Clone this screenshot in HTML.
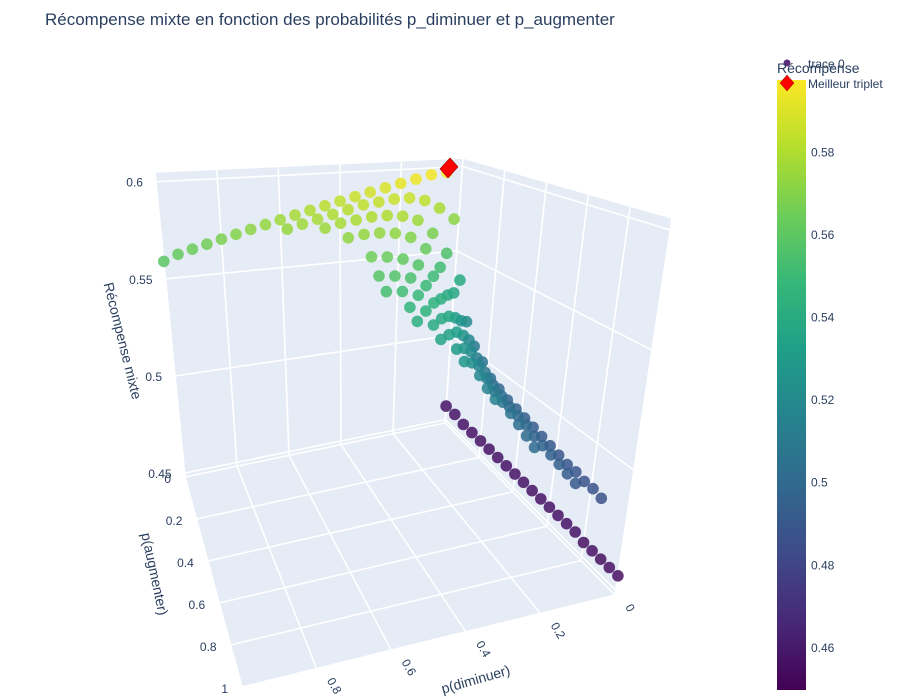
<!DOCTYPE html>
<html><head><meta charset="utf-8"><style>
body{margin:0;background:#fff;}
svg{display:block;font-family:"Liberation Sans",Arial,sans-serif;}
</style></head><body>
<svg id="chart" width="900" height="700" viewBox="0 0 900 700">
<text x="45" y="25" font-size="17" fill="#2a3f5f">Récompense mixte en fonction des probabilités p_diminuer et p_augmenter</text>
<g id="scene"></g>
<g id="cbar"></g>
<g>
<circle cx="787" cy="63" r="3.5" fill="#5c2d7c"/>
<text x="808" y="68" font-size="12" fill="#2a3f5f">trace 0</text>
<polygon points="787,75 794,83 787,91 780,83" fill="#ff0000" stroke="#8b0000" stroke-width="0.5"/>
<text x="808" y="88" font-size="12" fill="#2a3f5f">Meilleur triplet</text>
<text x="777" y="73" font-size="14" fill="#2a3f5f">Récompense</text>
</g>
</svg>
<script>
// ---- data ----
const uGrid = [0,0.05,0.1,0.15,0.2,0.25,0.3,0.35,0.4,0.45,0.5,0.55,0.6,0.65,0.7,0.75,0.8,0.85,0.9,0.95,1];
const vGrid = [0,0.05,0.1,0.15,0.2,0.25,0.3,0.35,0.4,0.45,0.5,0.55,0.6,0.65,0.7,0.75,0.8,0.85,0.9,0.95,1];
// reward for p_diminuer = 0, indexed by p_augmenter
const rewardU0 = [0.458,0.458,0.457,0.457,0.457,0.457,0.457,0.457,0.457,0.457,0.457,0.457,0.457,0.457,0.457,0.457,0.456,0.456,0.456,0.456,0.456];
// rows: p_augmenter = vGrid[j]; entries for p_diminuer = 0.05, 0.1, ...
const rewardRows = [
[0.597,0.596,0.594,0.592,0.590,0.588,0.586,0.584,0.582,0.580,0.578,0.576,0.574,0.572,0.570,0.568,0.566,0.564,0.562,0.559],
[0.572,0.579,0.584,0.586,0.586,0.585,0.584,0.582,0.580,0.578,0.576,0.574],
[0.540,0.556,0.568,0.576,0.579,0.580,0.580,0.579,0.578,0.576],
[0.520,0.537,0.552,0.563,0.570,0.573,0.574,0.574,0.573],
[0.510,0.525,0.540,0.551,0.558,0.562,0.564,0.565],
[0.505,0.518,0.531,0.542,0.550,0.555,0.557,0.558],
[0.500,0.512,0.525,0.536,0.544,0.549,0.552,0.553],
[0.498,0.508,0.520,0.531,0.539,0.544,0.547],
[0.496,0.505,0.516,0.526,0.534,0.540,0.543],
[0.495,0.503,0.513,0.522,0.530,0.536],
[0.494,0.501,0.510,0.519,0.527],
[0.493,0.500,0.508,0.516],
[0.492,0.499,0.506,0.514],
[0.491,0.497,0.504],
[0.490,0.496,0.502],
[0.489,0.495,0.500],
[0.489,0.494],
[0.488,0.493],
[0.488,0.492],
[0.487]
];
const bestDim = [0.05];
const bestAug = [0.0];
const bestReward = [0.599];
const zTicks = [0.45,0.5,0.55,0.6];
const zTickLabels = ["0.45","0.5","0.55","0.6"];
const augTicks = [0,0.2,0.4,0.6,0.8,1];
const augTickLabels = ["0","0.2","0.4","0.6","0.8","1"];
const dimTicks = [0,0.2,0.4,0.6,0.8];
const dimTickLabels = ["0","0.2","0.4","0.6","0.8"];
const cbTicks = [0.46,0.48,0.5,0.52,0.54,0.56,0.58];
const cbTickLabels = ["0.46","0.48","0.5","0.52","0.54","0.56","0.58"];

// ---- projection (u = p_diminuer, v = p_augmenter, z = reward) ----
const Z0 = 0.448, Z1 = 0.605;
const C = {
  f00:[445,423], f10:[185,477], f01:[615,595], f11:[242,687],
  t00:[463,158], t10:[155,172], t01:[672,218], t11:[262,285]
};
function bil(a,b,c,d,u,v){return [
  (1-u)*(1-v)*a[0]+u*(1-v)*b[0]+(1-u)*v*c[0]+u*v*d[0],
  (1-u)*(1-v)*a[1]+u*(1-v)*b[1]+(1-u)*v*c[1]+u*v*d[1]];}
function proj(u,v,z){
  const w=(z-Z0)/(Z1-Z0);
  const F=bil(C.f00,C.f10,C.f01,C.f11,u,v), T=bil(C.t00,C.t10,C.t01,C.t11,u,v);
  return [F[0]+w*(T[0]-F[0]), F[1]+w*(T[1]-F[1])];
}
const VIR=[[68,1,84],[72,40,120],[62,74,137],[49,104,142],[38,130,142],[31,158,137],[53,183,121],[109,205,89],[180,222,44],[253,231,37]];
const CMIN=0.4498, CMAX=0.5975;
function color(z){let t=Math.max(0,Math.min(1,(z-CMIN)/(CMAX-CMIN)))*(VIR.length-1);
  const i=Math.min(VIR.length-2,Math.floor(t)),f=t-i;
  const c=VIR[i].map((x,k)=>Math.round(x+(VIR[i+1][k]-x)*f));return `rgb(${c[0]},${c[1]},${c[2]})`;}

const NS="http://www.w3.org/2000/svg";
const scene=document.getElementById('scene');
function mk(tag,attrs,parent){const e=document.createElementNS(NS,tag);for(const k in attrs)e.setAttribute(k,attrs[k]);(parent||scene).appendChild(e);return e;}
function pts(arr){return arr.map(p=>p.join(',')).join(' ');}

const floor=mk('polygon',{points:pts([proj(0,0,Z0),proj(1,0,Z0),proj(1,1,Z0),proj(0,1,Z0)]),fill:'#e5ecf6'});


const back=mk('polygon',{points:pts([proj(0,0,Z0),proj(1,0,Z0),proj(1,0,Z1),proj(0,0,Z1)]),fill:'#e5ecf6'});


const side=mk('polygon',{points:pts([proj(0,0,Z0),proj(0,1,Z0),proj(0,1,Z1),proj(0,0,Z1)]),fill:'#e5ecf6'});


function gl(a,b,name){const l=mk('line',{x1:a[0],y1:a[1],x2:b[0],y2:b[1],stroke:'#fff','stroke-width':1.6});
  
  }
const g5=[0,0.2,0.4,0.6,0.8,1];
g5.forEach(t=>{
  gl(proj(t,0,Z0),proj(t,1,Z0),'floor-grid-dim');
  gl(proj(0,t,Z0),proj(1,t,Z0),'floor-grid-aug');
  gl(proj(t,0,Z0),proj(t,0,Z1),'back-grid-dim');
  gl(proj(0,t,Z0),proj(0,t,Z1),'side-grid-aug');
});
zTicks.forEach(z=>{gl(proj(0,0,z),proj(1,0,z),'back-grid-z');gl(proj(0,0,z),proj(0,1,z),'side-grid-z');});
gl(proj(0,0,Z1),proj(1,0,Z1),'back-top-edge');gl(proj(0,0,Z1),proj(0,1,Z1),'side-top-edge');

const P=[];
vGrid.forEach((v,j)=>{P.push({u:0,v:v,z:rewardU0[j]});});
rewardRows.forEach((row,j)=>{row.forEach((z,i)=>{P.push({u:uGrid[i+1],v:vGrid[j],z:z});});});
P.sort((a,b)=>(a.u+a.v)-(b.u+b.v));
P.forEach(p=>{const s=proj(p.u,p.v,p.z);
  const c=mk('circle',{cx:s[0].toFixed(1),cy:s[1].toFixed(1),r:5.8,fill:color(p.z),'fill-opacity':0.85});
  
  
});
bestDim.forEach((d,i)=>{const s=proj(d,bestAug[i],bestReward[i]);
  const dm=mk('polygon',{points:pts([[s[0]+3,s[1]-11],[s[0]+11,s[1]-2],[s[0]+1,s[1]+9],[s[0]-7,s[1]]]),fill:'#ff0000',stroke:'#8b0000','stroke-width':0.6});
  
  
});

function tx(x,y,str,opts,name){const t=mk('text',Object.assign({x:x,y:y,'font-size':12,fill:'#2a3f5f'},opts||{}));t.textContent=str;
  
  return t;}
zTicks.forEach((z,i)=>{const s=proj(1,0,z);tx(s[0]-13,s[1]+5,zTickLabels[i],{'text-anchor':'end'},'z-tick-label');});
augTicks.forEach((v,i)=>{const s=proj(1,v,Z0);tx(s[0]-14,s[1]+6,augTickLabels[i],{'text-anchor':'end'},'aug-tick-label');});
dimTicks.forEach((u,i)=>{const s=proj(u,1,Z0);const x=s[0]+10,y=s[1]+12;
  tx(x,y,dimTickLabels[i],{transform:`rotate(60 ${x} ${y})`},'dim-tick-label');});
tx(118,342,'Récompense mixte',{'font-size':14,'text-anchor':'middle',transform:'rotate(76 118 342)'},'z-axis-title');
tx(150,575,'p(augmenter)',{'font-size':14,'text-anchor':'middle',transform:'rotate(78 150 575)'},'aug-axis-title');
tx(477,684,'p(diminuer)',{'font-size':14,'text-anchor':'middle',transform:'rotate(-16 477 684)'},'dim-axis-title');

const cb=document.getElementById('cbar');
const CB_TOP=80, CB_BOT=690, CB_X=777, CB_W=29;
const cbY=z=>CB_BOT-(z-CMIN)/(CMAX-CMIN)*(CB_BOT-CB_TOP);
const defs=mk('defs',{},cb);
const lg=mk('linearGradient',{id:'vir',x1:0,y1:1,x2:0,y2:0},defs);
VIR.forEach((c,i)=>mk('stop',{offset:(i/(VIR.length-1)),'stop-color':`rgb(${c.join(',')})`},lg));
const bar=mk('rect',{x:CB_X,y:CB_TOP,width:CB_W,height:CB_BOT-CB_TOP,fill:'url(#vir)'},cb);


cbTicks.forEach((z,i)=>{const t=mk('text',{x:CB_X+CB_W+5,y:cbY(z)+4,'font-size':12,fill:'#2a3f5f'},cb);t.textContent=cbTickLabels[i];
  
  });
</script>
</body></html>
